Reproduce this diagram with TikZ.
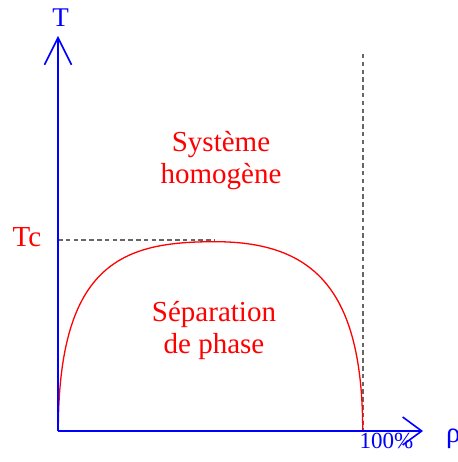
\documentclass[tikz,border=0pt]{standalone}
\usepackage{fontspec}
\setmainfont{Liberation Serif}
\usetikzlibrary{arrows.meta}
\begin{document}
\begin{tikzpicture}[x=1pt,y=-1pt,
  axis/.style={draw=blue, line width=1.6pt},
  guide/.style={draw=black!60, line width=1.1pt, dash pattern=on 4.5pt off 3.3pt},
  lbl/.style={font=\fontsize{29}{32}\selectfont, inner sep=0pt, align=center}]
\useasboundingbox (0,0) rectangle (457,462);
\coordinate (O) at (58,431);
\coordinate (Ytop) at (58,36);
\coordinate (Xend) at (423,431);
\coordinate (TcL) at (58,240);
\coordinate (TcR) at (215,240);
\coordinate (VTop) at (363,54);
\coordinate (VBot) at (363,431);
\coordinate (Peak) at (215,241.7);
\coordinate (Cend) at (362.7,431);
% guides
\draw[guide] (TcL) -- (TcR);
\draw[guide] (VTop) -- (VBot);
% coexistence curve
\draw[red, line width=1.3pt] (58.3,431) .. controls (58.3,261) and (125,241.7) .. (Peak)
  .. controls (315,241.7) and (362.7,291) .. (Cend);
% axes
\draw[axis, -{Straight Barb[length=27pt, width=27pt]}] (O) -- (Ytop);
\draw[axis, -{Straight Barb[length=19pt, width=28pt]}] (O) -- (Xend);
% labels
\node[lbl, text=blue, anchor=base, font=\fontsize{27}{30}\selectfont] (T) at (60.5,27) {T};
\node[lbl, text=red, anchor=base] (Tc) at (27,246) {Tc};
\node[lbl, text=blue, anchor=base, font=\fontsize{23}{28}\selectfont] (pct) at (386.5,448) {100\%};
\node[lbl, text=blue, anchor=base west] (rho) at (446,442) {ρ};
\node[lbl, text=red] (homo) at (221,161) {Système\\homogène};
\node[lbl, text=red] (sep) at (214,331) {Séparation\\de phase};
\end{tikzpicture}
\end{document}
